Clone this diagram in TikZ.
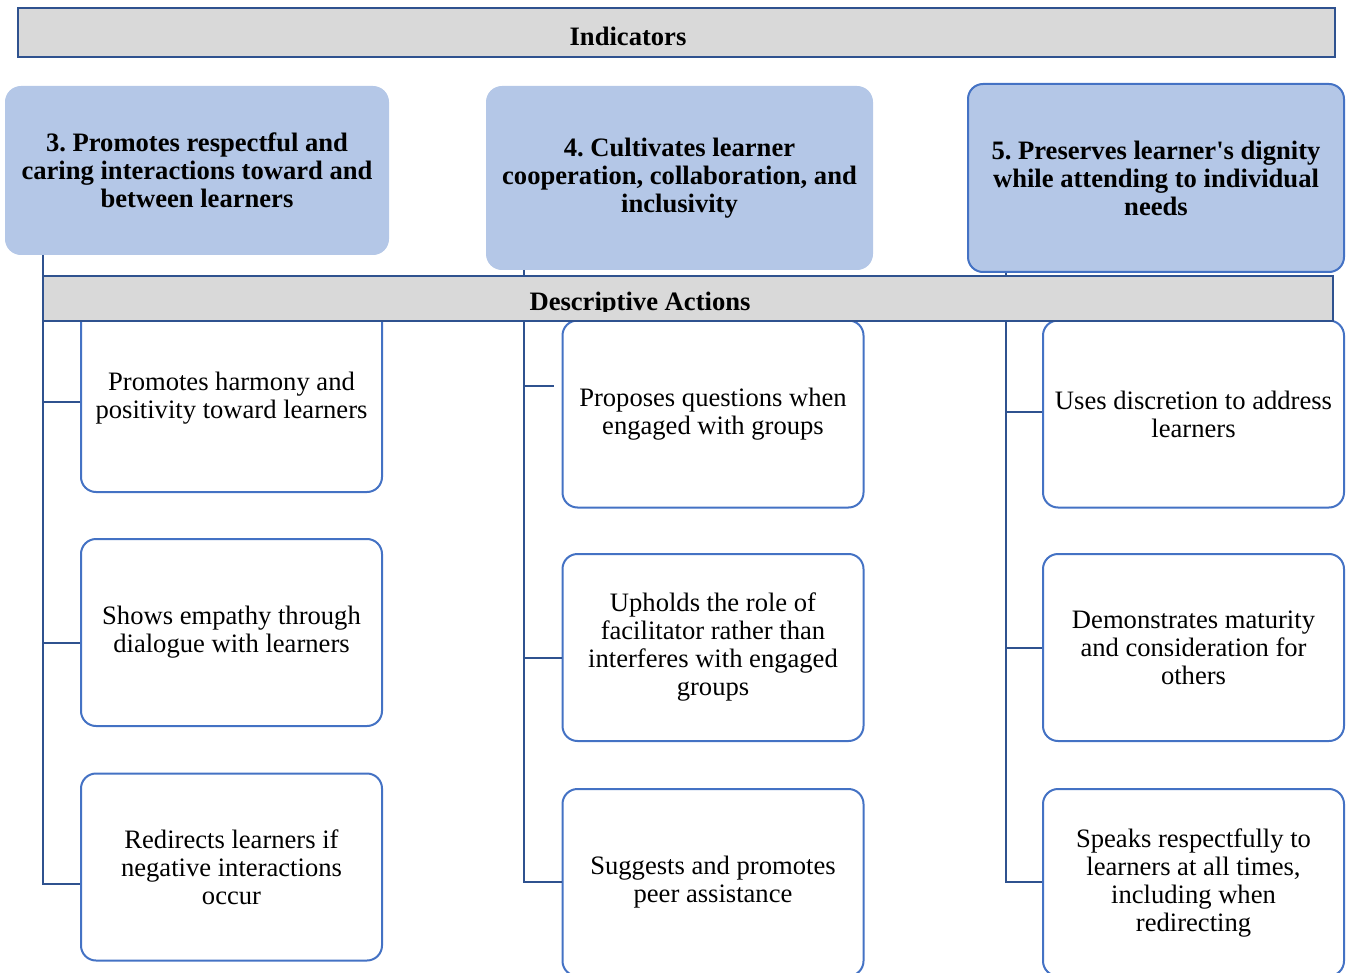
\documentclass[tikz,border=0pt]{standalone}
\usepackage{fontspec}
\setmainfont{Liberation Serif}
\usepackage{xcolor}
\usetikzlibrary{positioning}

\definecolor{bargray}{HTML}{D9D9D9}
\definecolor{darkblue}{HTML}{2F528F}
\definecolor{lightblue}{HTML}{B4C7E7}
\definecolor{midblue}{HTML}{4472C4}

\newcommand{\boxfont}{\fontsize{13.3}{14}\selectfont\frenchspacing}

\tikzset{
  headbar/.style={draw=darkblue, fill=bargray, line width=1pt, inner sep=0pt},
  barlabel/.style={inner sep=0pt, font=\boxfont\bfseries},
  indbox/.style={fill=lightblue, draw=lightblue, line width=1pt, rounded corners=7.5pt, align=center,
    font=\boxfont\bfseries, inner sep=0pt},
  actbox/.style={fill=white, draw=midblue, line width=1pt, rounded corners=7.5pt, align=center,
    font=\boxfont, minimum width=150.5pt, minimum height=93.5pt, inner sep=0pt},
  trunk/.style={draw=darkblue, line width=1pt}
}

\begin{document}
\begin{tikzpicture}[x=0.5pt, y=-0.5pt]
            \useasboundingbox (0, 0) rectangle (1349, 973);

            % top bar and indicators
            \node[headbar, minimum width=658.5pt, minimum height=24.5pt] (indbar) at (676.5, 33) {};
            \node[barlabel] (indlabel) at (628, 36) {Indicators};
            \node[indbox, minimum width=191pt, minimum height=83.5pt] (ind3) at (197, 170.5) {3. Promotes respectful and\\caring interactions toward and\\between learners};
            \node[indbox, minimum width=192.5pt, minimum height=91pt] (ind4) at (679.5, 178) {4. Cultivates learner\\cooperation, collaboration, and\\inclusivity};
            \node[indbox, draw=midblue, minimum width=188pt, minimum height=94pt] (ind5) at (1156, 178) {5. Preserves learner\textquotesingle s dignity\\while attending to individual\\needs};

            \coordinate (t3) at (43, 884);
            \coordinate (t4) at (524, 882);
            \coordinate (t5) at (1006, 882);

            % descriptive actions
            \node[actbox, minimum height=93.5pt] (a31) at (231.5, 398.5) {Promotes harmony and\\positivity toward learners};
            \node[actbox] (a32) at (231.5, 632.5) {Shows empathy through\\dialogue with learners};
            \node[actbox] (a33) at (231.5, 867) {Redirects learners if\\negative interactions\\occur};
            \node[actbox] (a41) at (713, 414) {Proposes questions when\\engaged with groups};
            \node[actbox] (a42) at (713, 647.5) {Upholds the role of\\facilitator rather than\\interferes with engaged\\groups};
            \node[actbox] (a43) at (713, 882.5) {Suggests and promotes\\peer assistance};
            \node[actbox] (a51) at (1193.5, 414) {Uses discretion to address\\learners};
            \node[actbox] (a52) at (1193.5, 647.5) {Demonstrates maturity\\and consideration for\\others};
            \node[actbox] (a53) at (1193.5, 882.5) {Speaks respectfully to\\learners at all times,\\including when\\redirecting};

            \draw[trunk] (ind3.south -| t3) -- (t3) -- (t3 -| a33.west);
            \draw[trunk] ([yshift=-1.75pt]a31.west) -- ([yshift=-1.75pt]a31.west -| t3);
            \draw[trunk] ([yshift=-5.25pt]a32.west) -- ([yshift=-5.25pt]a32.west -| t3);

            \draw[trunk] (ind4.south -| t4) -- (t4) -- (t4 -| a43.west);
            \draw[trunk, shorten <=4pt] ([yshift=14pt]a41.west) -- ([yshift=14pt]a41.west -| t4);
            \draw[trunk] ([yshift=-5.25pt]a42.west) -- ([yshift=-5.25pt]a42.west -| t4);

            \draw[trunk] (ind5.south -| t5) -- (t5) -- (t5 -| a53.west);
            \draw[trunk] ([yshift=1pt]a51.west) -- ([yshift=1pt]a51.west -| t5);
            \draw[trunk] (a52.west) -- (a52.west -| t5);

            \node[headbar, minimum width=645pt, minimum height=22.5pt] (actbar) at (688, 298.5) {};
            \begin{scope}
              \clip (actbar.north west) rectangle (1333, 311);
              \node[barlabel, anchor=base] (actlabel) at (640, 310) {Descriptive Actions};
            \end{scope}
        \end{tikzpicture}
\end{document}
